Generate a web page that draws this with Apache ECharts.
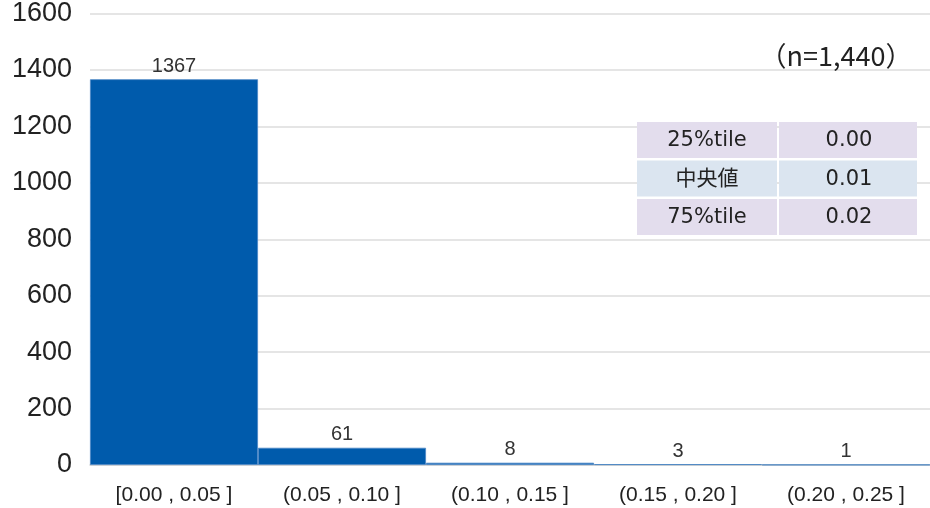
<!DOCTYPE html>
<html><head><meta charset="utf-8">
<script src="https://cdn.jsdelivr.net/npm/echarts@6/dist/echarts.min.js"></script>
<style>html,body{margin:0;padding:0;background:#fff}#c{width:930px;height:508px}</style>
</head><body><div id="c"></div>
<script>
const categories = ['[0.00 , 0.05 ]', '(0.05 , 0.10 ]', '(0.10 , 0.15 ]', '(0.15 , 0.20 ]', '(0.20 , 0.25 ]'];
const counts = [1367, 61, 8, 3, 1];
const yTicks = [0, 200, 400, 600, 800, 1000, 1200, 1400, 1600];
const sampleNote = '（n=1,440）';
const statLabels = ['25%tile', '中央値', '75%tile'];
const statValues = ['0.00', '0.01', '0.02'];

const chart = echarts.init(document.getElementById('c'));
const tbl = [];
const tx = 637, ty = 122, cw = 140, gap = 2, rh = 36, rgap = 2.5;
const rowColors = ['#e3dded', '#dbe5f0', '#e3dded'];
statLabels.forEach((lab, i) => {
  const y = ty + i * (rh + rgap);
  tbl.push({type:'rect', shape:{x:tx, y:y, width:cw, height:rh}, style:{fill:rowColors[i]}, z:10});
  tbl.push({type:'rect', shape:{x:tx+cw+gap, y:y, width:cw-2, height:rh}, style:{fill:rowColors[i]}, z:10});
  tbl.push({type:'text', x:tx+cw/2, y:y+rh/2+1, style:{text:lab, fill:'#222', font:'21px "DejaVu Sans", "Noto Sans CJK JP", sans-serif', align:'center', verticalAlign:'middle'}, z:11});
  tbl.push({type:'text', x:tx+cw+gap+cw/2, y:y+rh/2+1, style:{text:statValues[i], fill:'#222', font:'21px "DejaVu Sans", sans-serif', align:'center', verticalAlign:'middle'}, z:11});
});
tbl.push({type:'text', x:836, y:56, style:{text:sampleNote, fill:'#222', font:'27px "Noto Sans CJK JP", sans-serif', align:'center', verticalAlign:'middle'}, z:11});

chart.setOption({
  animation:false,
  grid:{left:90, right:0, top:9, bottom:43, containLabel:false},
  xAxis:{type:'category', data:categories,
    axisLine:{lineStyle:{color:'#d0d0d0', width:1.5}}, axisTick:{show:false},
    axisLabel:{color:'#222', fontSize:21, fontFamily:'"Liberation Sans", Arial, sans-serif', margin:20}},
  yAxis:{type:'value', min:yTicks[0], max:yTicks[yTicks.length-1], interval:200,
    axisLine:{show:false}, axisTick:{show:false},
    axisLabel:{color:'#222', fontSize:27, fontFamily:'"Liberation Sans", Arial, sans-serif', margin:18, formatter: v => String(v)},
    splitLine:{lineStyle:{color:'#dcdcdc', width:1.5}}},
  series:[{type:'bar', data:counts, barCategoryGap:'0%',
    itemStyle:{color:'#005bac', borderColor:'#4a86c5', borderWidth:0.8},
    label:{show:true, position:'top', distance:3, color:'#333', fontSize:20, fontFamily:'"Liberation Sans", Arial, sans-serif'}}],
  graphic: tbl
});
</script></body></html>
